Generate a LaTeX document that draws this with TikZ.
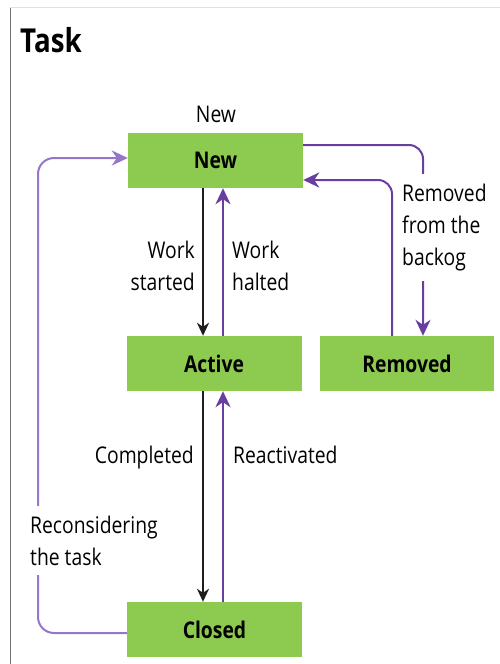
\documentclass[tikz,border=0pt]{standalone}
\usepackage{fontspec}
\setmainfont{Open Sans}[FakeStretch=0.84]
\usetikzlibrary{arrows.meta}
\definecolor{stategreen}{RGB}{140,202,80}
\definecolor{flowpurple}{RGB}{104,62,160}
\definecolor{looppurple}{RGB}{150,118,200}
\definecolor{flowblack}{RGB}{30,30,30}
\tikzset{
  statebox/.style={fill=stategreen, minimum width=175pt, minimum height=55pt,
    inner sep=0pt, font=\fontsize{23}{32}\selectfont\bfseries},
  lbl/.style={font=\fontsize{23}{32}\selectfont, inner sep=0pt},
  purflow/.style={draw=flowpurple, line width=2pt,
    -{Stealth[length=16pt,width=15pt,inset=5pt]}},
  blkflow/.style={draw=flowblack, line width=2pt,
    -{Stealth[length=13pt,width=12pt,inset=4pt]}},
}
\begin{document}
\begin{tikzpicture}[x=1pt,y=-1pt]
  \useasboundingbox (0,0) rectangle (500,664);
  % frame
  \draw[black!12, line width=1pt] (10,7) -- (500,7);
  \draw[black!55, line width=1pt] (10,8) -- (10,664);
  % title
  \node[anchor=base west, inner sep=0pt, font=\fontsize{33}{40}\selectfont\bfseries] (title) at (20,52) {Task};

  % states
  \node[statebox] (new) at (215.5,160.5) {New};
  \node[statebox] (active) at (214,363.5) {Active};
  \node[statebox, minimum width=174pt] (removed) at (407,363.5) {Removed};
  \node[statebox] (closed) at (214.5,629.5) {Closed};
  \node[lbl, anchor=base] (newlbl) at (216,122) {New};

  % guide columns
  \coordinate (xl) at (203,0);
  \coordinate (xr) at (223,0);
  \coordinate (xq) at (423,0);
  \coordinate (xp) at (392,0);
  \coordinate (xk) at (38,0);

  % vertical transitions
  \draw[blkflow] (new.south -| xl) -- (active.north -| xl);
  \draw[purflow] (active.north -| xr) -- (new.south -| xr);
  \draw[blkflow] (active.south -| xl) -- (closed.north -| xl);
  \draw[purflow] (closed.north -| xr) -- (active.south -| xr);

  % New <-> Removed
  \draw[purflow, rounded corners=14pt] (new.east |- 0,145) -| (removed.north -| xq);
  \draw[purflow, rounded corners=14pt] (removed.north -| xp) |- (new.east |- 0,180);

  % Closed -> New
  \draw[purflow, draw=looppurple, rounded corners=16pt] (closed.west |- 0,633) -| (xk |- 0,158) -- (new.west |- 0,158);

  % transition labels (base = baseline of the last line)
  \node[lbl, anchor=base east, align=right] (wstart) at (195,290) {Work\\started};
  \node[lbl, anchor=base west, align=left] (whalt) at (232,290) {Work\\halted};
  \node[lbl, anchor=base east] (compl) at (194,463) {Completed};
  \node[lbl, anchor=base west] (react) at (233,463) {Reactivated};
  \node[lbl, anchor=base west, align=left, fill=white, inner xsep=3pt, inner ysep=10pt] (backlog) at (399,265) {Removed\\from the\\backog};
  \node[lbl, anchor=base west, align=left, fill=white, inner xsep=2pt, inner ysep=10pt] (recons) at (28,565) {Reconsidering\\the task};
\end{tikzpicture}
\end{document}
